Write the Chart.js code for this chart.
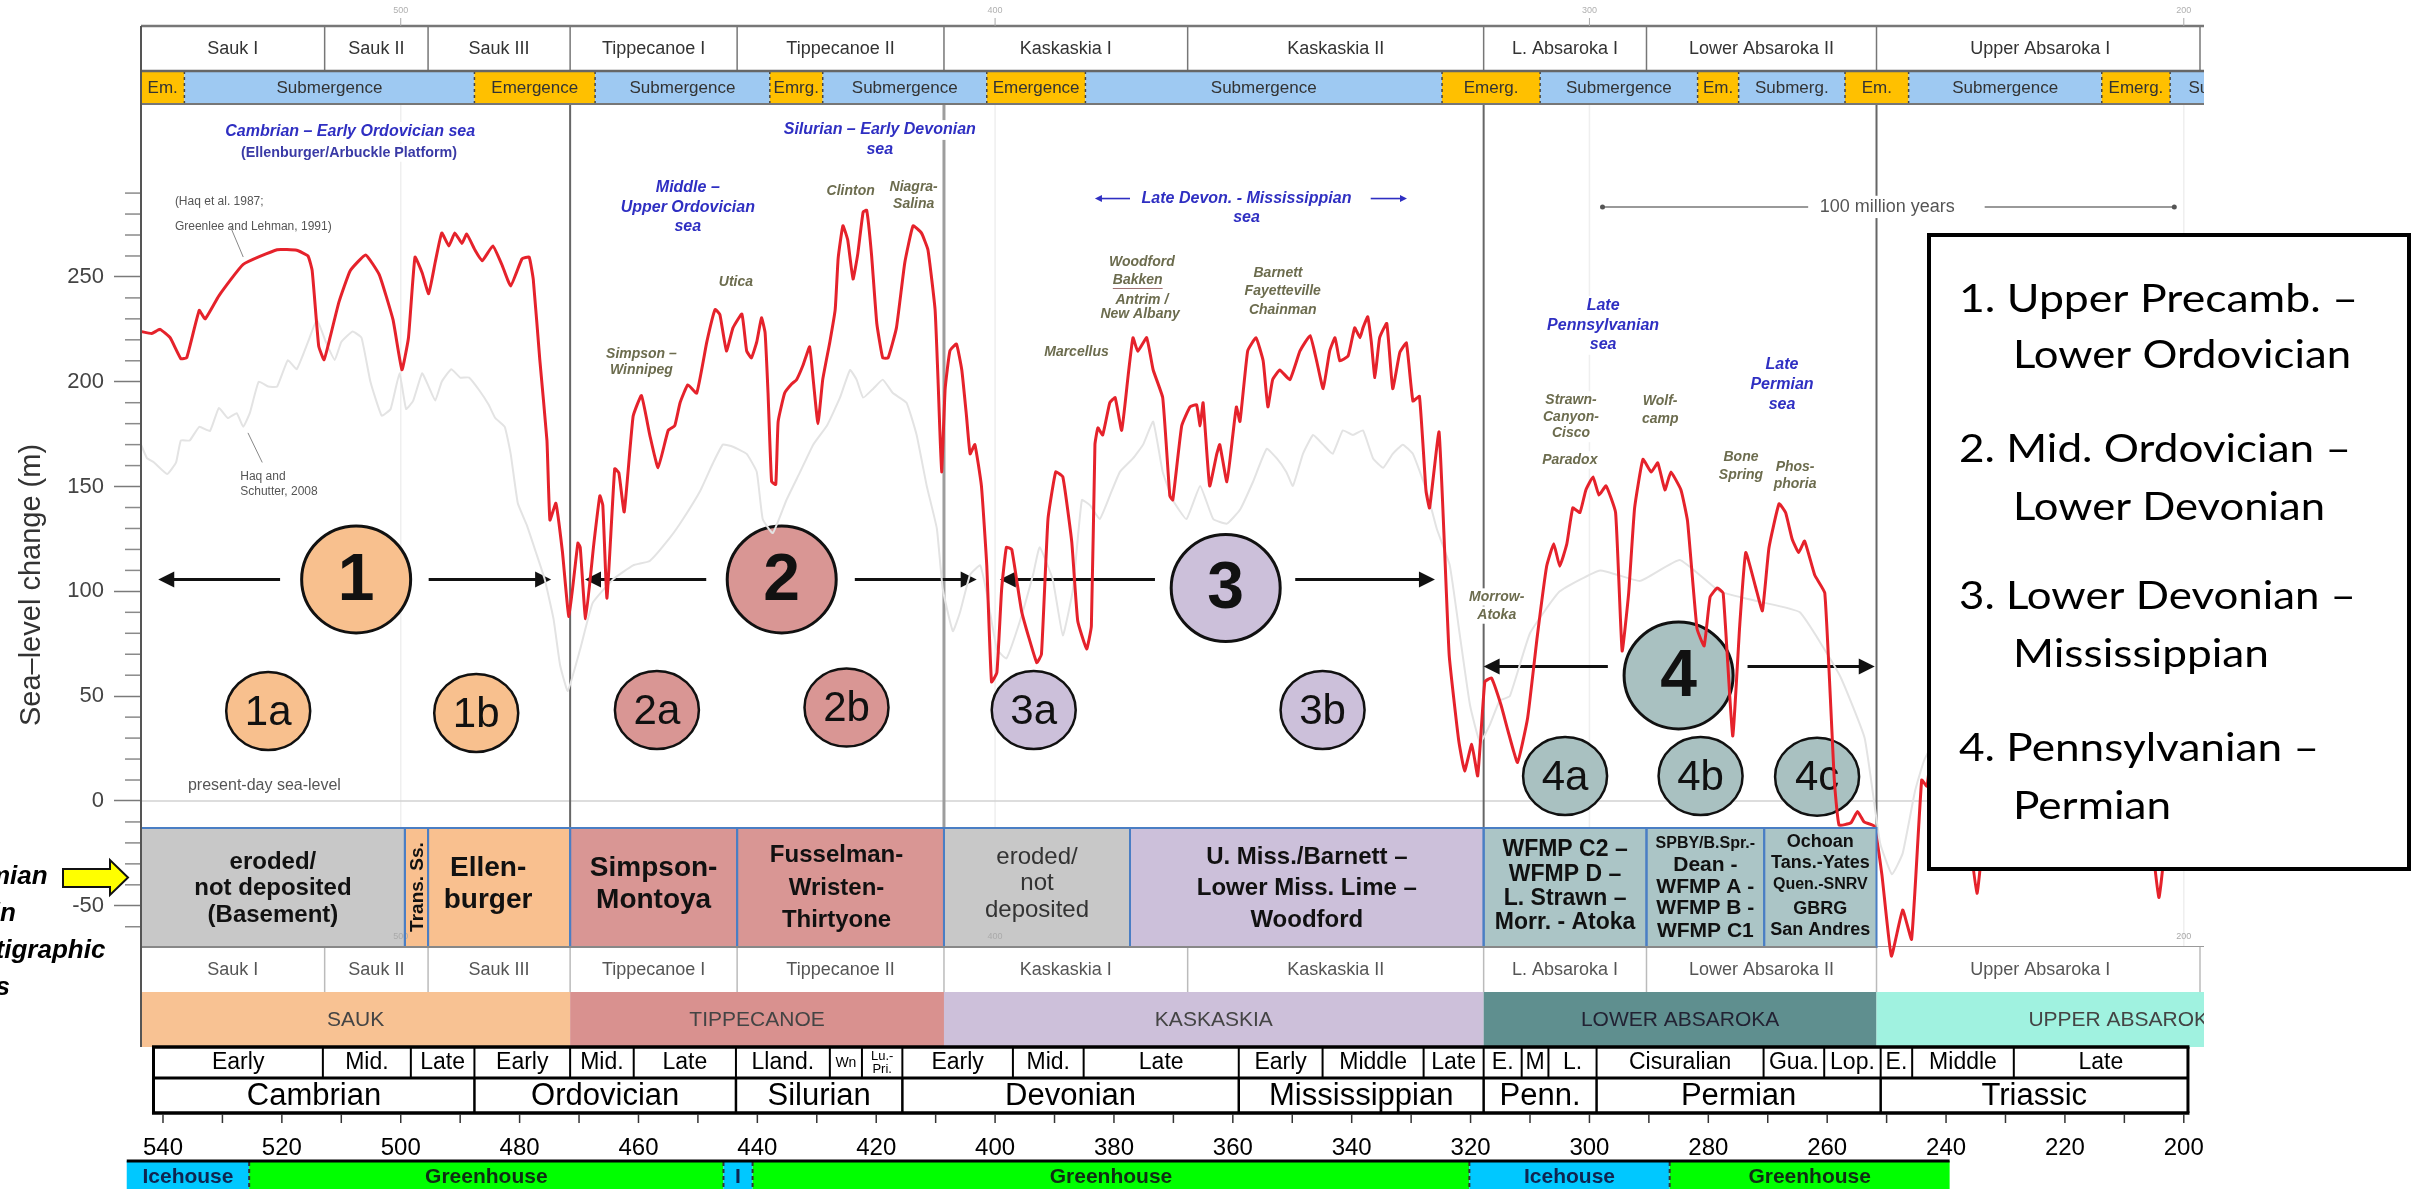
<!DOCTYPE html>
<html>
<head>
<meta charset="utf-8">
<script src="https://cdn.jsdelivr.net/npm/chart.js@4.4.1/dist/chart.umd.min.js"></script>
<style>
  html, body { margin: 0; padding: 0; background: #fff; overflow: hidden; }
  #c { display: block; }
</style>
</head>
<body>
<canvas id="c" width="2425" height="1189"></canvas>
<script>
// ---- Sea-level curves: [age (Ma), sea-level change (m)] ----
const haq1987 = [
[543.7,224],[541.9,223],[540.5,225],[538.8,221],[537.0,211],[536.0,211.5],[533.9,234],[532.9,230],[530.6,241],[526.5,256],
[520.8,263],[517.5,262.7],[515.6,260],[514.9,253],[513.8,217],[512.9,210.5],[511.9,221],[510.4,238],[508.5,253],[505.9,260.5],
[503.6,251],[501.3,229.6],[499.8,205.7],[498.7,221],[497.6,259.5],[496.4,252],[495.3,242],[494.2,257],[493.1,271],[491.9,264.8],
[490.9,271],[489.7,266],[488.9,270.5],[487.5,262.8],[486.3,257.7],[484.5,264.8],[483.0,256],[481.5,245.7],[479.6,258.6],[478.4,259.5],
[477.7,248.8],[476.6,210.4],[475.4,172],[474.9,134],[473.9,142],[472.8,119],[471.7,88],[470.2,123],[469.8,121],[468.9,87],
[467.5,123],[466.5,145.6],[466.0,141],[465.3,96.8],[464.0,158.5],[463.3,156.5],[462.4,137.9],[460.9,183.5],[459.5,193.4],[458.1,174.6],
[456.7,159],[455.0,176.8],[453.9,179],[453.0,190],[451.7,198.5],[450.2,194.6],[448.5,219],[447.1,234.5],[446.3,232],[445.2,214.7],
[444.1,225.7],[442.6,232.3],[441.8,214.7],[441.0,211.4],[440.1,219],[439.3,230.5],[438.7,223.4],[438.2,194.6],[437.6,152.3],[436.9,151],
[436.5,181],[435.4,194.6],[434.2,199],[433.4,201],[432.3,208],[431.2,216.7],[430.6,201],[429.8,180],[429.0,201],[427.8,219],
[426.9,234.5],[426.4,259],[425.6,274.4],[424.8,267.7],[423.9,249],[423.1,261],[422.2,281],[421.6,281.8],[420.8,261],[419.9,227.8],
[418.9,211.4],[418.0,211.4],[416.6,225.7],[415.2,256.7],[413.8,274.4],[412.4,271],[411.3,263],[410.1,234.5],[409.6,201],[409.0,157],
[408.4,196.7],[407.6,214.7],[406.5,218],[405.6,205.6],[404.8,183.3],[404.2,165.6],[403.4,170],[402.3,150.3],[401.4,112.4],[400.6,56.8],
[399.7,61.2],[398.9,101],[398.1,121],[397.2,120],[395.5,90],[393.0,66],[392.2,70],[391.1,134.5],[389.8,157],[388.6,154.6],
[387.1,123.6],[386.1,86],[384.6,72.5],[383.8,83.5],[383.2,170],[382.7,178],[381.9,174.6],[380.7,190],[379.8,192.4],[378.7,176.8],
[377.6,203.3],[376.8,221],[376.0,214.5],[374.5,221],[373.4,205.6],[371.8,192.4],[370.6,145.6],[370.1,143.6],[368.6,179],[367.2,188],
[366.1,189],[365.5,179],[365.0,190],[363.9,150.3],[362.7,165.6],[362.2,170],[361.0,152.3],[360.0,174.6],[359.4,188],[358.8,181],
[357.5,214.7],[356.1,221],[354.9,210],[354.1,188],[353.3,201],[352.1,205.6],[350.4,201],[348.7,214.7],[347.0,222],[345.9,210],
[344.8,196.7],[343.7,214.7],[342.8,221],[342.0,210],[340.6,212.3],[339.5,225.7],[338.6,221],[338.1,225.7],[337.3,231],[336.7,219],
[336.1,202],[335.3,221],[334.1,227.8],[333.1,196.7],[331.9,214],[330.8,218.5],[329.7,190.8],[328.6,193],[327.5,148],[326.9,139.8],
[325.3,176],[323.6,69.7],[322.0,29],[321.0,14.3],[319.8,27],[318.8,12],[317.6,56.8],[316.5,58.7],[314.9,46],[313.7,33.4],
[312.1,18.4],[310.4,39.6],[308.8,78],[307.2,112],[306.0,122.7],[305.0,112],[303.8,122.7],[302.8,139.8],[301.6,137.6],[300.6,148.4],
[299.4,154.6],[298.4,146],[297.2,150.3],[295.6,137.6],[294.5,71.6],[293.4,99.2],[292.4,139.8],[291.0,163],[289.6,156.9],[288.5,161.3],
[287.3,148.4],[286.3,156.9],[284.6,148.4],[283.5,133.6],[281.9,82.2],[280.7,74],[279.7,97.3],[278.5,101.6],[277.5,99.2],[275.9,31],
[274.7,84.4],[273.7,118.5],[272.0,101.6],[270.9,90.7],[269.8,120.7],[268.1,141.8],[267.0,137.6],[265.9,125],[264.8,118.5],[263.8,124],
[262.1,107.8],[260.4,99.2],[258.8,10],[258.0,-11.5],[256.0,-10.4],[254.9,-5],[253.8,-10],[252.1,-12],[250.8,-35],[249.2,-74],
[247.3,-52],[245.8,-66],[244.1,10],[243.2,7],[241.9,40],[240.2,55],[238.5,30],[236.8,0],[234.8,-44],[233.5,-10],
[231.8,30],[229.3,60],[225.9,75],[222.5,60],[219.2,80],[215.8,70],[212.4,85],[209.1,50],[206.5,10],[204.2,-46],
[202.7,-10],[200.7,20],[198.1,40]
];
const haqSchutter2008 = [
[543.7,170],[542.7,163.6],[541.5,161.5],[539.3,156],[537.8,161.5],[537.0,172],[535.5,172],[533.9,178.5],[532.1,176.5],[530.6,187.5],
[529.1,182.7],[527.6,185],[526.5,178.5],[525.4,185],[523.9,200],[522.3,197.7],[520.8,197.7],[519.0,210.3],[517.5,206],[515.6,219],
[514.1,229.6],[512.6,219],[511.1,210.4],[510.0,219],[508.1,224],[506.6,221],[505.1,200],[503.2,183.8],[501.7,187],[500.2,204],
[499.1,187],[497.9,191],[496.4,204],[495.3,197.7],[494.2,191],[493.1,200],[491.5,206],[490.0,202],[488.5,202],[486.7,195.6],
[485.2,189],[484.1,182.7],[482.5,178.5],[481.5,165.6],[480.3,142],[478.8,131.7],[477.3,119],[475.8,106],[474.3,87],[473.2,65],
[471.9,52.5],[469.8,72.5],[467.7,94.5],[464.3,105.7],[460.9,112.4],[458.1,114.5],[454.7,125.6],[452.5,134.5],[449.6,148],[447.5,161],
[445.8,170],[444.1,169],[441.8,165.6],[440.1,157],[439.1,134.5],[437.4,127.8],[435.1,143.6],[432.8,157],[430.6,170],[428.3,179],
[426.1,192.4],[424.4,205.6],[423.3,201],[422.2,192.4],[420.5,196.7],[418.9,201],[417.2,194.6],[414.9,190],[413.2,174.6],[411.5,150.3],
[409.8,130],[408.8,101],[407.1,81],[405.9,90],[404.2,108],[402.5,112.4],[401.4,99],[399.7,72.5],[398.1,68],[395.8,86],
[393.6,108],[392.5,121],[390.3,105.7],[388.6,79],[386.9,101],[385.4,143.6],[384.0,141],[382.4,134.5],[380.7,145.6],[379.0,157],
[376.8,163.4],[375.1,170],[373.4,181],[371.8,157],[370.1,143.6],[367.8,134.5],[365.5,150.3],[363.3,134.5],[361.0,132.3],[358.8,138.9],
[356.6,152.3],[354.3,168],[352.6,163.4],[351.0,157],[349.9,150.3],[348.2,165.6],[346.5,174.6],[344.8,170],[343.2,165.6],[341.5,176.8],
[339.8,174.6],[338.1,176.8],[336.4,163.4],[334.7,159],[333.1,165.6],[331.4,170],[329.7,165.6],[327.4,148],[325.7,130],[323.5,112.4],
[321.8,79],[320.1,45.8],[318.4,27.9],[316.7,36.7],[315.1,47.9],[313.4,50],[310.0,80],[305.0,100],[298.2,110],[291.5,105],
[284.8,115],[278.1,100],[271.3,95],[264.6,90],[257.9,60],[253.7,30],[251.1,-20],[249.1,-35],[247.3,-25],[245.2,5],
[243.6,20],[239.4,40],[230.9,50],[222.5,60],[214.1,60],[205.7,50],[198.1,55]
];

// ---- Sea-level axis ticks (m) ----
const seaLevelTicks = [-60,-50,-40,-30,-20,-10,0,10,20,30,40,50,60,70,80,90,100,110,120,130,140,150,160,170,180,190,200,210,220,230,240,250,260,270,280,290];

// ---- Time scale (Ma) ----
const timeLabels = [540,520,500,480,460,440,420,400,380,360,340,320,300,280,260,240,220,200];
const timeTicks = [540,530,520,510,500,490,480,470,460,450,440,430,420,410,400,390,380,370,360,350,340,330,320,310,300,290,280,270,260,250,240,230,220,210,200];
const gridAges = [500,400,300,200];

// ---- Sequences ----
const sequenceNames = ['Sauk I','Sauk II','Sauk III','Tippecanoe I','Tippecanoe II','Kaskaskia I','Kaskaskia II','L. Absaroka I','Lower Absaroka II','Upper Absaroka I'];
const sequenceBounds = [543.7,512.8,495.4,471.5,443.4,408.6,367.6,317.8,290.4,251.7,196.6];

const phaseNames = ['Em.','Submergence','Emergence','Submergence','Emrg.','Submergence','Emergence','Submergence','Emerg.','Submergence','Em.','Submerg.','Em.','Submergence','Emerg.','Submergence'];
const phaseBounds = [543.7,536.4,487.6,467.3,437.9,429.0,401.4,384.8,324.8,308.3,281.8,274.9,257.0,246.3,213.8,202.3,178.3];

const supersequenceNames = ['SAUK','TIPPECANOE','KASKASKIA','LOWER ABSAROKA','UPPER ABSAROKA'];
const supersequenceBounds = [543.7,471.5,408.6,317.8,251.7,168.0];

// ---- Stratigraphic units ----
const unitNames = [
  ['eroded/','not deposited','(Basement)'],
  ['Trans. Ss.'],
  ['Ellen-','burger'],
  ['Simpson-','Montoya'],
  ['Fusselman-','Wristen-','Thirtyone'],
  ['eroded/','not','deposited'],
  ['U. Miss./Barnett –','Lower Miss. Lime –','Woodford'],
  ['WFMP C2 –','WFMP D –','L. Strawn –','Morr. - Atoka'],
  ['SPBY/B.Spr.-','Dean -','WFMP A -','WFMP B -','WFMP C1'],
  ['Ochoan','Tans.-Yates','Quen.-SNRV','GBRG','San Andres']
];
const unitBounds = [543.7,499.3,495.4,471.5,443.4,408.6,377.3,317.8,290.4,270.6,251.7];

// ---- Geologic time scale ----
const epochNames = ['Early','Mid.','Late','Early','Mid.','Late','Lland.','Wn','Lu.-Pri.','Early','Mid.','Late','Early','Middle','Late','E.','M','L.','Cisuralian','Gua.','Lop.','E.','Middle','Late'];
const epochBounds = [541.6,513.1,498.3,487.6,471.5,460.8,443.6,427.8,422.4,415.6,397.0,385.1,359.0,344.9,327.9,317.8,311.4,306.9,298.8,270.7,260.5,251.0,245.7,228.6,199.3];
const periodNames = ['Cambrian','Ordovician','Silurian','Devonian','Mississippian','Penn.','Permian','Triassic'];
const periodBounds = [541.6,487.6,443.6,415.6,359.0,317.8,298.8,251.0,199.3];

const climateNames = ['Icehouse','Greenhouse','I','Greenhouse','Icehouse','Greenhouse'];
const climateBounds = [546.1,525.5,445.7,440.8,320.2,286.5,239.4];

// ---- Play groupings ----
const groupNames = ['1','2','3','4'];
const groupCentres = [[507.5,105.7],[435.9,105.7],[361.2,101.6],[285.0,59.9]];
const groupSpans = [[520.3,540.8,495.3,474.7,105.7],[448.6,469.0,423.6,403.1,105.7],[373.1,399.2,349.5,326.0,105.7],[296.9,317.8,273.4,252.0,64.1]];
const subgroupNames = ['1a','1b','2a','2b','3a','3b','4a','4b','4c'];
const subgroupCentres = [[522.3,42.9],[487.3,42.0],[456.9,43.4],[425.0,44.6],[393.5,43.4],[344.9,43.4],[304.1,11.9],[281.3,11.9],[261.7,11.6]];
const subgroupOf = [0,0,1,1,2,2,3,3,3];

const legendLines = ['1. Upper Precamb. –','Lower Ordovician','2. Mid. Ordovician –','Lower Devonian','3. Lower Devonian –','Mississippian','4. Pennsylvanian –','Permian'];

// ---- Notes on the curve: [text, age, sea level] ----
const seaNotes = [
  ['Cambrian – Early Ordovician sea',508.5,319.2],
  ['Middle –',451.7,292.7],['Upper Ordovician',451.7,282.9],['sea',451.7,274.0],
  ['Silurian – Early Devonian',419.4,320.1],['sea',419.4,310.6],
  ['Late Devon. - Mississippian',357.7,287.4],['sea',357.7,278.2],
  ['Late',297.7,236.2],['Pennsylvanian',297.7,226.6],['sea',297.7,217.6],
  ['Late',267.6,208.0],['Permian',267.6,198.5],['sea',267.6,188.9]
];
const platformNote = ['(Ellenburger/Arbuckle Platform)',508.7,309.2];
const unitNotes = [
  ['Simpson –',459.5,213.4],['Winnipeg',459.5,205.6],['Utica',443.6,247.4],['Clinton',424.3,290.7],
  ['Niagra-',413.7,292.7],['Salina',413.7,284.5],['Woodford',375.3,257.2],['Bakken',376.0,248.3],
  ['Antrim /',375.3,239.0],['New Albany',375.6,232.3],['Marcellus',386.3,214.2],['Barnett',352.4,251.9],
  ['Fayetteville',351.6,243.3],['Chainman',351.6,234.3],['Morrow-',315.6,97.3],['Atoka',315.6,88.7],
  ['Strawn-',303.1,191.3],['Canyon-',303.1,183.0],['Cisco',303.1,175.3],['Paradox',303.3,162.7],
  ['Wolf-',288.1,190.6],['camp',288.1,182.0],['Bone',274.5,163.9],['Spring',274.5,155.3],
  ['Phos-',265.4,159.4],['phoria',265.4,151.2]
];
const sourceNotes = [['(Haq et al. 1987;',538.0,285.8],['Greenlee and Lehman, 1991)',538.0,274.0],['Haq and',527.0,154.6],['Schutter, 2008',527.0,147.4]];

// ---- Styling ----
const SANS = '"Liberation Sans", Arial, sans-serif';
const groupFill = ['#f8c08e','#d99694','#ccc0da','#a9c1c1'];
const phaseFill = ['#ffc000','#9ec9f2'];
const superFill = ['#f8c293','#d9918f','#cdc0da','#5f8f8f','#a0f2e0'];
const unitFill = ['#c8c8c8','#f9c08f','#f9c08f','#d99694','#d99694','#c8c8c8','#ccc0da','#abc5c6','#abc5c6','#abc5c6'];
const climateFill = {Icehouse:'#00c8ff', I:'#00c8ff', Greenhouse:'#00ff00'};
const unitStyles = [
  {w:'bold', s:[24,24,24], y:[862,888,915], c:'#111', dx:0},
  {w:'bold', s:[19], y:[887], c:'#111', dx:1, rot:true},
  {w:'bold', s:[28,28], y:[868,900], c:'#111', dx:-11},
  {w:'bold', s:[28,28], y:[868,900], c:'#111', dx:0},
  {w:'bold', s:[24,24,24], y:[855,888,920], c:'#111', dx:-4},
  {w:'normal', s:[24,24,24], y:[857,883,910], c:'#333', dx:0},
  {w:'bold', s:[24,24,24], y:[857,888,920], c:'#111', dx:0},
  {w:'bold', s:[23,23,23,23], y:[850,875,899,923], c:'#111', dx:0},
  {w:'bold', s:[16,21,21,21,21], y:[844,865,887,908,931], c:'#111', dx:0},
  {w:'bold', s:[18,18,16,18,18], y:[842,863,885,909,930], c:'#111', dx:0}
];

function fnt(size, weight, style, fam) { return (style || 'normal') + ' ' + (weight || 'normal') + ' ' + size + 'px ' + (fam || SANS); }
function put(c, s, x, y, f, color, align, base) {
  c.font = f; c.fillStyle = color; c.textAlign = align || 'center'; c.textBaseline = base || 'middle';
  c.fillText(s, x, y);
}
function putBg(c, s, x, y, f, size, color, align) {
  c.font = f;
  const w = c.measureText(s).width;
  const a = align || 'center';
  const x0 = a === 'center' ? x - w / 2 : (a === 'left' ? x : x - w);
  c.fillStyle = '#fff';
  c.fillRect(x0 - 3, y - size * 0.62, w + 6, size * 1.24);
  put(c, s, x, y, f, color, a);
}
function seg(c, x0, y0, x1, y1, color, w, dash) {
  c.save(); c.strokeStyle = color; c.lineWidth = w; c.setLineDash(dash || []);
  c.beginPath(); c.moveTo(x0, y0); c.lineTo(x1, y1); c.stroke(); c.restore();
}
function box(c, x0, y0, x1, y1, fill) { c.fillStyle = fill; c.fillRect(x0, y0, x1 - x0, y1 - y0); }
function arrowTo(c, x0, y, x1, color, w, hl, hw) {
  const d = Math.sign(x1 - x0);
  seg(c, x0, y, x1 - d * (hl - 2), y, color, w);
  c.fillStyle = color; c.beginPath();
  c.moveTo(x1, y); c.lineTo(x1 - d * hl, y - hw); c.lineTo(x1 - d * hl, y + hw); c.closePath(); c.fill();
}
function oval(c, x, y, rx, ry, fill, lw) {
  c.beginPath(); c.ellipse(x, y, rx, ry, 0, 0, Math.PI * 2);
  c.fillStyle = fill; c.fill(); c.lineWidth = lw; c.strokeStyle = '#111'; c.stroke();
}

// Drawn beneath the curves
function drawUnderlay(chart) {
  const c = chart.ctx, X = a => chart.scales.x.getPixelForValue(a), Y = v => chart.scales.y.getPixelForValue(v);
  const A = chart.chartArea;
  c.save();
  // faint age grid
  gridAges.forEach(a => seg(c, X(a), A.top, X(a), A.bottom, '#efefef', 1.5));
  // present-day sea level and frame bottom
  seg(c, A.left, Y(0), A.right, Y(0), '#d2d2d2', 1.5);
  seg(c, A.left, A.bottom, A.right, A.bottom, '#9a9a9a', 2);
  // supersequence boundaries
  [471.5, 317.8, 251.7].forEach(a => seg(c, X(a), A.top, X(a), 828, '#666', 2));
  seg(c, X(408.6), A.top, X(408.6), 828, '#9d9d9d', 3);

  // blue "sea" notes
  seaNotes.forEach(n => putBg(c, n[0], X(n[1]), Y(n[2]), fnt(16, 'bold', 'italic'), 16, '#2f2fc2'));
  putBg(c, platformNote[0], X(platformNote[1]), Y(platformNote[2]), fnt(14.3, 'bold'), 14.3, '#3a3aa6');
  // arrows either side of the Late Devonian - Mississippian note
  const ly = Y(287.4);
  arrowTo(c, X(377.3), ly, X(383.2), '#2f2fc2', 1.6, 7, 3.5);
  arrowTo(c, X(336.8), ly, X(330.7), '#2f2fc2', 1.6, 7, 3.5);
  // unit notes
  unitNotes.forEach(n => putBg(c, n[0], X(n[1]), Y(n[2]), fnt(14, 'bold', 'italic'), 14, '#6c6c4e'));
  c.font = fnt(14, 'bold', 'italic');
  const bw = c.measureText('Bakken').width;
  seg(c, X(376.0) - bw / 2, Y(248.3) + 8, X(376.0) + bw / 2, Y(248.3) + 8, '#a07070', 1);
  // source notes with leaders
  sourceNotes.forEach(n => putBg(c, n[0], X(n[1]), Y(n[2]), fnt(12), 12, '#555', 'left'));
  seg(c, X(528.7), Y(274.3), X(526.5), Y(259.5), '#888', 1);
  seg(c, X(525.7), Y(175.6), X(523.3), Y(161.5), '#888', 1);
  put(c, 'present-day sea-level', X(535.8), Y(7.2), fnt(16), '#555', 'left');

  // 100 million years span
  const my = Y(283.4);
  seg(c, X(297.8), my, X(263.2), my, '#777', 1.5);
  seg(c, X(233.5), my, X(201.6), my, '#777', 1.5);
  [297.8, 201.6].forEach(a => { c.fillStyle = '#555'; c.beginPath(); c.arc(X(a), my, 2.5, 0, Math.PI * 2); c.fill(); });
  putBg(c, '100 million years', X(249.9), my, fnt(18), 18, '#555');

  // groupings
  groupSpans.forEach(g => {
    arrowTo(c, X(g[0]), Y(g[4]), X(g[1]), '#111', 3, 16, 8);
    arrowTo(c, X(g[2]), Y(g[4]), X(g[3]), '#111', 3, 16, 8);
  });
  groupNames.forEach((g, i) => {
    const x = X(groupCentres[i][0]), y = Y(groupCentres[i][1]);
    oval(c, x, y, 54.5, 53.5, groupFill[i], 3);
    put(c, g, x, y + 2, fnt(66, 'bold'), '#111');
  });
  subgroupNames.forEach((g, i) => {
    const x = X(subgroupCentres[i][0]), y = Y(subgroupCentres[i][1]);
    oval(c, x, y, 42, 39, groupFill[subgroupOf[i]], 2.5);
    put(c, g, x, y + 2, fnt(42), '#111');
  });

  // sequence row under the units
  box(c, A.left, 947, A.right, 992, '#fff');
  for (let i = 0; i < sequenceNames.length; i++) {
    const x0 = X(sequenceBounds[i]), x1 = X(sequenceBounds[i + 1]);
    if (i > 0) seg(c, x0, 947, x0, 992, '#bbb', 1.5);
    put(c, sequenceNames[i], (x0 + x1) / 2, 970, fnt(18), '#555');
  }
  seg(c, X(196.6) - 4, 947, X(196.6) - 4, 992, '#bbb', 1.5);
  c.restore();
}

// Drawn over the curves
function drawOverlay(chart) {
  const c = chart.ctx, X = a => chart.scales.x.getPixelForValue(a), Y = v => chart.scales.y.getPixelForValue(v);
  const A = chart.chartArea;
  c.save();

  // ---- header rows ----
  box(c, A.left, 26, A.right, 71, '#fff');
  for (let i = 0; i < sequenceNames.length; i++) {
    const x0 = X(sequenceBounds[i]), x1 = X(sequenceBounds[i + 1]);
    if (i > 0) seg(c, x0, 26, x0, 71, '#777', 1.5);
    put(c, sequenceNames[i], (x0 + x1) / 2, 49, fnt(18), '#333');
  }
  seg(c, A.right - 4, 26, A.right - 4, 71, '#777', 1.5);
  c.save();
  c.beginPath(); c.rect(A.left, 71, A.right - A.left, 33); c.clip();
  for (let i = 0; i < phaseNames.length; i++) {
    const x0 = X(phaseBounds[i]), x1 = X(phaseBounds[i + 1]);
    box(c, x0, 71, x1, 104, phaseFill[i % 2]);
    put(c, phaseNames[i], (x0 + x1) / 2, 88, fnt(17), '#333');
  }
  for (let i = 1; i < phaseNames.length; i++) seg(c, X(phaseBounds[i]), 71, X(phaseBounds[i]), 104, '#444', 1.5, [3, 3]);
  c.restore();
  seg(c, A.left, 26, A.right, 26, '#777', 2.5);
  seg(c, A.left, 71, A.right, 71, '#666', 2.5);
  seg(c, A.left, 104, A.right, 104, '#777', 2);
  // faint age labels above the header
  gridAges.forEach(a => { put(c, String(a), X(a), 11, fnt(9), '#b0b0b0'); seg(c, X(a), 18, X(a), 26, '#aaa', 1); });

  // ---- stratigraphic units ----
  for (let i = 0; i < unitNames.length; i++) {
    const x0 = X(unitBounds[i]), x1 = X(unitBounds[i + 1]);
    box(c, x0, 828, x1, 947, unitFill[i]);
  }
  gridAges.forEach(a => { if (a !== 300) put(c, String(a), X(a), 937, fnt(9), '#aaa'); });
  for (let i = 0; i < unitNames.length; i++) {
    const x0 = X(unitBounds[i]), x1 = X(unitBounds[i + 1]);
    const st = unitStyles[i];
    const cx = (x0 + x1) / 2 + st.dx;
    unitNames[i].forEach((s, k) => {
      if (st.rot) {
        c.save(); c.translate(cx, st.y[k]); c.rotate(-Math.PI / 2);
        put(c, s, 0, 0, fnt(st.s[k], st.w), st.c); c.restore();
      } else {
        put(c, s, cx, st.y[k], fnt(st.s[k], st.w), st.c);
      }
    });
    c.strokeStyle = '#4a7ec4'; c.lineWidth = 2;
    c.strokeRect(x0, 828, x1 - x0, 119);
  }
  seg(c, A.left, 947, X(251.7), 947, '#888', 2);

  // ---- legend box ----
  box(c, 1929, 235, 2409, 869, '#fff');
  c.strokeStyle = '#000'; c.lineWidth = 4; c.strokeRect(1929, 235, 480, 634);
  const lgY = [298, 354, 448, 506, 595, 653, 747, 805];
  const lgW = [399, 338, 392, 312, 397, 256, 360, 158];
  legendLines.forEach((s, i) => {
    c.font = '39px Lato, "Open Sans", sans-serif';
    const w = c.measureText(s).width;
    c.save();
    c.translate(i % 2 ? 2013 : 1959, lgY[i] + 14);
    c.scale(lgW[i] / w, 1);
    c.fillStyle = '#000'; c.textAlign = 'left'; c.textBaseline = 'alphabetic';
    c.fillText(s, 0, 0);
    c.restore();
  });

  // ---- supersequence band ----
  c.save();
  c.beginPath(); c.rect(A.left, 992, A.right - A.left, 55); c.clip();
  for (let i = 0; i < supersequenceNames.length; i++) {
    const x0 = X(supersequenceBounds[i]), x1 = X(supersequenceBounds[i + 1]);
    box(c, x0, 992, x1, 1047, superFill[i]);
    put(c, supersequenceNames[i], (x0 + x1) / 2, 1020, fnt(21), i === 3 ? '#223' : '#444');
  }
  c.restore();

  // ---- epochs and periods ----
  const tl = X(epochBounds[0]), tr = X(epochBounds[epochBounds.length - 1]);
  box(c, tl, 1047, tr, 1113, '#fff');
  for (let i = 0; i < epochNames.length; i++) {
    const x0 = X(epochBounds[i]), x1 = X(epochBounds[i + 1]), cx = (x0 + x1) / 2;
    if (epochNames[i] === 'Lu.-Pri.') {
      put(c, 'Lu.-', cx, 1056, fnt(13), '#000'); put(c, 'Pri.', cx, 1069, fnt(13), '#000');
    } else {
      put(c, epochNames[i], cx, 1063, fnt(epochNames[i] === 'Wn' ? 14 : 23), '#000');
    }
    if (i > 0) seg(c, x0, 1047, x0, 1078, '#000', 2);
  }
  for (let i = 0; i < periodNames.length; i++) {
    const x0 = X(periodBounds[i]), x1 = X(periodBounds[i + 1]);
    put(c, periodNames[i], (x0 + x1) / 2, 1096, fnt(31), '#000');
    if (i > 0) seg(c, x0, 1078, x0, 1113, '#000', 2.5);
  }
  seg(c, tl - 1.5, 1047, tr + 1.5, 1047, '#000', 3.5);
  seg(c, tl, 1078, tr, 1078, '#000', 3);
  seg(c, tl - 1.5, 1113, tr + 1.5, 1113, '#000', 3.5);
  seg(c, tl, 1047, tl, 1113, '#000', 3);
  seg(c, tr, 1047, tr, 1113, '#000', 3);

  // ---- time axis ----
  timeTicks.forEach(a => seg(c, X(a), 1114, X(a), 1123, '#333', 1.5));
  timeLabels.forEach(a => put(c, String(a), X(a), 1148, fnt(24), '#000'));

  // ---- climate bar ----
  for (let i = 0; i < climateNames.length; i++) {
    const x0 = X(climateBounds[i]), x1 = X(climateBounds[i + 1]);
    box(c, x0, 1161, x1, 1189, climateFill[climateNames[i]]);
    put(c, climateNames[i], (x0 + x1) / 2, 1177, fnt(21, 'bold'), climateNames[i] === 'Greenhouse' ? '#0f2d14' : '#0f2550');
    if (i > 0) seg(c, x0, 1162, x0, 1189, '#333', 2, [4, 3]);
  }
  seg(c, X(climateBounds[0]), 1161, X(climateBounds[climateBounds.length - 1]), 1161, '#000', 3);

  // ---- left margin title (continues off the page) ----
  const sideWords = ['Permian', 'Basin', 'Stratigraphic', 'Units'];
  const sideY = [877, 914, 951, 988];
  sideWords.forEach((s, i) => put(c, s, -55, sideY[i], fnt(26, 'bold', 'italic'), '#000', 'left'));
  // yellow pointer
  c.beginPath();
  c.moveTo(63, 869); c.lineTo(110, 869); c.lineTo(110, 860); c.lineTo(128, 877.5);
  c.lineTo(110, 895); c.lineTo(110, 887); c.lineTo(63, 887); c.closePath();
  c.fillStyle = '#ffff00'; c.fill(); c.strokeStyle = '#111'; c.lineWidth = 2; c.stroke();

  // ---- minor sea-level ticks, axis line ----
  seaLevelTicks.forEach(v => { if (v % 50 !== 0) seg(c, 125, Y(v), A.left, Y(v), '#8a8a8a', 1.5); });
  seg(c, A.left, 26, A.left, 1047, '#555', 2);

  // axis title
  c.save(); c.translate(32, 585); c.rotate(-Math.PI / 2);
  put(c, 'Sea–level change (m)', 0, 0, fnt(29), '#333');
  c.restore();
  c.restore();
}

const figurePlugin = {
  id: 'figure',
  beforeDraw(chart) { const c = chart.ctx; c.save(); c.fillStyle = '#fff'; c.fillRect(0, 0, chart.width, chart.height); c.restore(); },
  beforeDatasetsDraw(chart) { drawUnderlay(chart); },
  afterDatasetsDraw(chart) { drawOverlay(chart); }
};

new Chart(document.getElementById('c').getContext('2d'), {
  type: 'line',
  data: {
    datasets: [
      {
        label: 'Haq et al. 1987; Greenlee and Lehman, 1991',
        data: haq1987.map(p => ({ x: p[0], y: p[1] })),
        borderColor: '#e5222b', borderWidth: 3, pointRadius: 0, tension: 0.12,
        borderJoinStyle: 'round', clip: { left: 0, top: 0, right: 0, bottom: 12 }, order: 0
      },
      {
        label: 'Haq and Schutter, 2008',
        data: haqSchutter2008.map(p => ({ x: p[0], y: p[1] })),
        borderColor: '#e3e3e3', borderWidth: 2, pointRadius: 0, tension: 0.12,
        borderJoinStyle: 'round', order: 1
      }
    ]
  },
  options: {
    responsive: false,
    animation: false,
    devicePixelRatio: 1,
    layout: { padding: { left: 0, top: 104, right: 221, bottom: 242 } },
    plugins: { legend: { display: false }, tooltip: { enabled: false } },
    scales: {
      x: { type: 'linear', reverse: true, min: 196.6, max: 543.7, display: false },
      y: {
        type: 'linear', position: 'left', min: -69.66, max: 332.5,
        afterFit(scale) { scale.width = 141; },
        afterBuildTicks(scale) { scale.ticks = seaLevelTicks.map(v => ({ value: v })); },
        ticks: {
          autoSkip: false, padding: 10, color: '#444',
          font: { family: SANS, size: 22 },
          callback: v => (v % 50 === 0 ? String(v) : '')
        },
        grid: {
          drawOnChartArea: false, drawTicks: true, tickLength: 27, tickWidth: 1.5,
          tickColor: ctx => (ctx.tick && ctx.tick.value % 50 === 0 ? '#7a7a7a' : 'rgba(0,0,0,0)')
        },
        border: { display: true, color: '#555', width: 2 }
      }
    }
  },
  plugins: [figurePlugin]
});
</script>
</body>
</html>
